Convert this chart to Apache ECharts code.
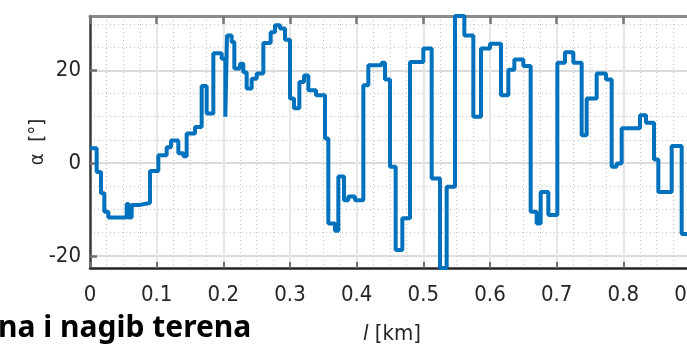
<!DOCTYPE html>
<html>
<head>
<meta charset="utf-8">
<script src="https://cdn.jsdelivr.net/npm/echarts@6/dist/echarts.min.js"></script>
<style>
  html, body { margin: 0; padding: 0; background: #ffffff; }
  #chart { width: 687px; height: 345px; }
</style>
</head>
<body>
<div id="chart"></div>
<script>
  // udaljenost (km) na kojoj pocinje svaki odsjecak, i nagib terena (stupnjevi)
  var distKm = [
    0, 0.010, 0.0165, 0.0215, 0.0275, 0.055, 0.058, 0.0625, 0.075, 0.090,
    0.1025, 0.115, 0.1215, 0.1325, 0.14, 0.145, 0.1575, 0.1675, 0.175, 0.185,
    0.1975, 0.203, 0.2055, 0.2125, 0.2165, 0.225, 0.23, 0.235, 0.2425, 0.25,
    0.26, 0.271, 0.2775, 0.285, 0.2925, 0.30, 0.306, 0.314, 0.321, 0.3275,
    0.339, 0.3525, 0.3575, 0.3675, 0.3725, 0.381, 0.3875, 0.3975, 0.41, 0.4175,
    0.4375, 0.4425, 0.45, 0.4585, 0.4685, 0.48, 0.50, 0.5125, 0.525, 0.535,
    0.5475, 0.5615, 0.575, 0.5865, 0.60, 0.6165, 0.6275, 0.6365, 0.65, 0.661,
    0.670, 0.676, 0.6875, 0.701, 0.7125, 0.725, 0.7375, 0.745, 0.76, 0.774,
    0.7825, 0.79, 0.7975, 0.825, 0.834, 0.846, 0.8525, 0.8725, 0.8875, 0.9
  ];
  var slopeDeg = [
    3.2, -1.9, -6.5, -10.5, -11.7, -8.8, -11.7, -9.0, -8.6, -1.7,
    1.7, 3.4, 4.9, 2.1, 1.5, 6.4, 7.8, 16.6, 10.7, 23.7,
    22.5, 10.0, 27.5, 26.1, 20.4, 21.4, 19.6, 16.1, 18.2, 19.3,
    25.9, 28.2, 29.7, 29.0, 26.6, 13.9, 11.8, 17.5, 18.9, 15.7,
    14.6, 5.3, -13.0, -14.6, -2.9, -8.0, -7.2, -8.0, 16.8, 21.1,
    21.6, 18.0, -0.8, -18.7, -11.9, 21.8, 24.7, -3.3, -22.6, -5.1,
    31.7, 27.5, 10.0, 24.7, 25.7, 14.6, 20.1, 22.3, 20.9, -10.5,
    -13.0, -6.2, -11.2, 21.6, 23.9, 21.6, 6.0, 13.9, 19.3, 18.0,
    -0.8, -0.1, 7.5, 10.3, 8.7, 0.8, -6.2, 3.7, -15.3, -15.3
  ];
  var yMajorTicks = [-20, 0, 20];
  var yMinorTicks = [-15, -10, -5, 5, 10, 15, 25, 30];
  var titleText = 'na i nagib terena';

  var data = [];
  for (var i = 0; i < distKm.length; i++) {
    data.push([distKm[i], slopeDeg[i]]);
  }

  var labelFont = '"Liberation Sans Narrow", "DejaVu Sans Condensed", "Liberation Sans", sans-serif';
  var yMin = -22.6, yMax = 31.7;

  var chart = echarts.init(document.getElementById('chart'));
  chart.setOption({
    backgroundColor: '#ffffff',
    animation: false,
    grid: { left: 90, top: 16, width: 600, height: 252, containLabel: false, outerBoundsMode: 'none' },
    xAxis: [
      {
        type: 'value',
        min: 0,
        max: 0.9,
        interval: 0.1,
        axisLine: { show: true, onZero: false, lineStyle: { color: '#262626', width: 2.5 } },
        axisTick: { show: true, inside: true, length: 6, lineStyle: { color: '#707070', width: 2 } },
        axisLabel: {
          show: true, margin: 16, color: '#262626', fontSize: 22, fontFamily: labelFont,
          showMaxLabel: true, showMinLabel: true,
          formatter: function (v) { return String(Math.round(v * 10) / 10); }
        },
        splitLine: { show: true, lineStyle: { color: '#e6e6e6', width: 2 } },
        minorTick: { show: false, splitNumber: 4 },
        minorSplitLine: { show: true, lineStyle: { color: '#c4c4c4', width: 1, type: [1, 3] } },
        name: '{i|l} [km]',
        nameLocation: 'middle',
        nameGap: 55,
        nameMoveOverlap: false,
        nameTextStyle: {
          color: '#262626', fontSize: 22, fontFamily: labelFont,
          padding: [0, 0, 0, 4],
          rich: { i: { fontStyle: 'italic', fontSize: 22, fontFamily: labelFont, color: '#262626' } }
        }
      },
      {
        type: 'value',
        position: 'top',
        min: 0,
        max: 0.9,
        interval: 0.1,
        axisLine: { show: true, onZero: false, lineStyle: { color: '#8a8a8a', width: 3 } },
        axisTick: { show: true, inside: true, length: 8, lineStyle: { color: '#777777', width: 2.5 } },
        axisLabel: { show: false },
        splitLine: { show: false }
      }
    ],
    yAxis: [
      {
        type: 'value',
        min: yMin,
        max: yMax,
        axisLine: { show: true, onZero: false, lineStyle: { color: '#3a3a3a', width: 2.5 } },
        axisTick: {
          show: true, inside: true, length: 7, customValues: yMajorTicks,
          lineStyle: { color: '#707070', width: 2.5 }
        },
        axisLabel: {
          show: true, margin: 9, color: '#262626', fontSize: 22, fontFamily: labelFont,
          customValues: yMajorTicks
        },
        splitLine: { show: true, lineStyle: { color: '#dcdcdc', width: 2 } },
        name: 'α  [°]',
        nameLocation: 'middle',
        nameRotate: 90,
        nameGap: 42,
        nameMoveOverlap: false,
        nameTextStyle: { color: '#262626', fontSize: 20, fontFamily: labelFont }
      },
      {
        type: 'value',
        min: yMin,
        max: yMax,
        axisLine: { show: false },
        axisTick: { show: false, customValues: yMinorTicks },
        axisLabel: { show: false },
        splitLine: { show: true, lineStyle: { color: '#c4c4c4', width: 1, type: [1, 3] } }
      }
    ],
    graphic: [
      {
        type: 'text',
        left: -2,
        top: 313,
        z: 100,
        style: {
          text: titleText,
          fill: '#000000',
          font: 'bold 30px "Noto Sans", "Open Sans", sans-serif'
        }
      }
    ],
    series: [
      {
        name: 'nagib',
        type: 'line',
        step: 'end',
        data: data,
        showSymbol: false,
        clip: false,
        lineStyle: { color: '#0072BD', width: 4 },
        z: 10
      }
    ]
  });
</script>
</body>
</html>
